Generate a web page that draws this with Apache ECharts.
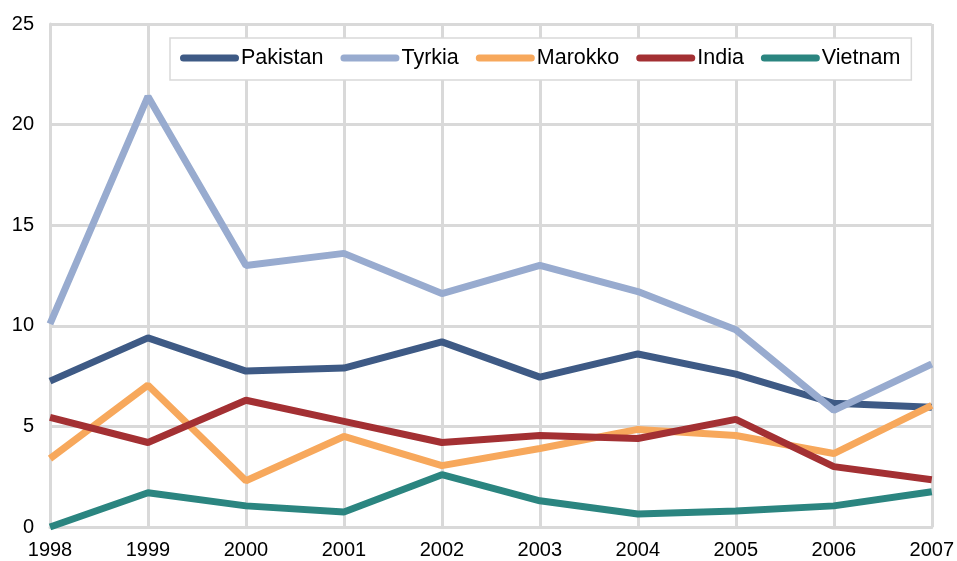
<!DOCTYPE html>
<html>
<head>
<meta charset="utf-8">
<script src="https://cdn.jsdelivr.net/npm/echarts@6/dist/echarts.min.js"></script>
<style>
html, body { margin: 0; padding: 0; background: #fff; }
#chart { width: 957px; height: 561px; }
</style>
</head>
<body>
<div id="chart"></div>
<script>
// data
const years = ['1998', '1999', '2000', '2001', '2002', '2003', '2004', '2005', '2006', '2007'];
const pakistan = [7.25, 9.4, 7.75, 7.9, 9.2, 7.45, 8.6, 7.6, 6.15, 5.95];
const tyrkia = [10.1, 21.4, 13.0, 13.6, 11.6, 13.0, 11.7, 9.8, 5.8, 8.1];
const marokko = [3.4, 7.05, 2.3, 4.5, 3.05, 3.9, 4.85, 4.55, 3.65, 6.05];
const india = [5.45, 4.2, 6.3, 5.25, 4.2, 4.55, 4.4, 5.35, 3.0, 2.35];
const vietnam = [0.0, 1.7, 1.05, 0.75, 2.6, 1.3, 0.65, 0.8, 1.05, 1.75];

const names = ['Pakistan', 'Tyrkia', 'Marokko', 'India', 'Vietnam'];
const colors = ['#3e5a85', '#98abcf', '#f7a85c', '#a33033', '#2b8580'];
const values = [pakistan, tyrkia, marokko, india, vietnam];

const gridGray = '#d9d9d9';
// pill shaped legend marker (rounded line ends)
const pill = 'path://M3.5,0 L55.5,0 A3.5,3.5 0 0 1 55.5,7 L3.5,7 A3.5,3.5 0 0 1 3.5,0 Z';

const chart = echarts.init(document.getElementById('chart'));
chart.setOption({
  animation: false,
  textStyle: { fontFamily: 'Liberation Sans, Arial, sans-serif' },
  grid: { left: 50, right: 24, top: 24, bottom: 34 },
  legend: {
    data: names,
    left: 170,
    top: 38,
    padding: [9, 11, 11, 10],
    borderColor: gridGray,
    borderWidth: 1.5,
    backgroundColor: '#fff',
    icon: pill,
    itemWidth: 59,
    itemHeight: 7,
    itemGap: 17,
    textStyle: {
      fontSize: 21.5,
      color: '#000',
      padding: [0, 0, 0, -3]
    }
  },
  xAxis: {
    type: 'category',
    data: years,
    boundaryGap: false,
    axisLine: { lineStyle: { color: gridGray, width: 3 } },
    axisTick: { show: false },
    axisLabel: { color: '#000', fontSize: 20, margin: 13 },
    splitLine: { show: true, lineStyle: { color: gridGray, width: 3 } }
  },
  yAxis: {
    type: 'value',
    min: 0,
    max: 25,
    interval: 5,
    axisLine: { show: true, lineStyle: { color: gridGray, width: 3 } },
    axisTick: { show: false },
    axisLabel: { color: '#000', fontSize: 20, margin: 16 },
    splitLine: { lineStyle: { color: gridGray, width: 3 } }
  },
  series: names.map((n, i) => ({
    name: n,
    type: 'line',
    data: values[i],
    symbol: 'none',
    itemStyle: { color: colors[i] },
    lineStyle: { color: colors[i], width: 7 }
  }))
});
</script>
</body>
</html>
